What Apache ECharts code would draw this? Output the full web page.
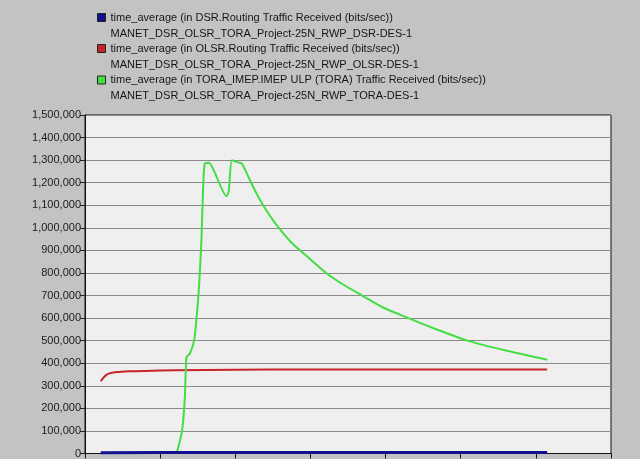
<!DOCTYPE html>
<html>
<head>
<meta charset="utf-8">
<script src="https://cdn.jsdelivr.net/npm/echarts@6/dist/echarts.min.js"></script>
<style>
html,body{margin:0;padding:0;background:#c3c3c3;}
#chart{width:640px;height:459px;}
</style>
</head>
<body>
<div id="chart"></div>
<script>
// Series names (legend)
const seriesNames = [
  "time_average (in DSR.Routing Traffic Received (bits/sec))\nMANET_DSR_OLSR_TORA_Project-25N_RWP_DSR-DES-1",
  "time_average (in OLSR.Routing Traffic Received (bits/sec))\nMANET_DSR_OLSR_TORA_Project-25N_RWP_OLSR-DES-1",
  "time_average (in TORA_IMEP.IMEP ULP (TORA) Traffic Received (bits/sec))\nMANET_DSR_OLSR_TORA_Project-25N_RWP_TORA-DES-1"
];

// x positions in axis units (x-axis tick labels are cut off in the picture)
const dsrX = [0.21, 1.0, 2.0, 3.0, 4.0, 5.0, 6.15];
const dsrY = [3000, 4000, 4000, 4000, 4000, 4000, 4000];

const olsrX = [0.21, 0.25, 0.30, 0.36, 0.45, 0.60, 0.80, 1.20, 2.00, 3.00, 4.00, 5.00, 6.15];
const olsrY = [320000, 338000, 352000, 358000, 361000, 364000, 366000, 369000, 371000, 372000, 372000, 372000, 372000];

const toraX = [1.218, 1.29, 1.328, 1.35, 1.394, 1.452, 1.483, 1.518, 1.55, 1.571, 1.594, 1.651, 1.704,
               1.882, 1.912, 1.956, 2.058, 2.089, 2.191, 2.301, 2.434, 2.567, 2.745, 2.922, 3.21,
               3.43, 3.688, 3.96, 4.28, 4.63, 5.09, 5.6, 6.153];
const toraY = [0, 96000, 243000, 427000, 442000, 500000, 596000, 743000, 950000, 1170000, 1285000, 1288000, 1262000,
               1140000, 1160000, 1300000, 1288000, 1285000, 1214000, 1140000, 1067000, 1005000, 935000, 883000, 800000,
               750000, 700000, 648000, 603000, 556000, 500000, 456000, 415000];

const yMin = 0, yMax = 1500000, yStep = 100000;
const xMin = 0, xMax = 7, xStep = 1;

const colors = ['#101090', '#c8252a', '#44dd44'];

function pairs(xs, ys){ return xs.map((x,i)=>[x, ys[i]]); }

const chart = echarts.init(document.getElementById('chart'), null, {renderer:'canvas'});

const legendTops = [-6.5, 24.5, 56];
const legends = seriesNames.map((n, i) => ({
  left: 97,
  top: legendTops[i],
  padding: 0,
  orient: 'vertical',
  icon: 'rect',
  itemWidth: 8,
  itemHeight: 8,
  itemStyle: {borderColor: '#222', borderWidth: 1},
  data: [n],
  formatter: name => ' \n' + name,
  textStyle: {
    fontFamily: 'Liberation Sans, Arial, sans-serif',
    fontSize: 11,
    color: '#151515',
    lineHeight: 16
  }
}));

chart.setOption({
  backgroundColor: '#c3c3c3',
  animation: false,
  legend: legends,
  grid: {
    left: 85, right: 29, top: 115, bottom: 4,
    show: true,
    backgroundColor: '#efefef',
    borderColor: '#111',
    borderWidth: 1
  },
  xAxis: {
    type: 'value',
    min: xMin, max: xMax, interval: xStep,
    axisLine: {show: true, lineStyle: {color: '#111', width: 1}},
    axisTick: {show: true, length: 5, lineStyle: {color: '#111'}},
    axisLabel: {show: false},
    splitLine: {show: false}
  },
  yAxis: {
    type: 'value',
    min: yMin, max: yMax, interval: yStep,
    axisLine: {show: true, lineStyle: {color: '#111', width: 1}},
    axisTick: {show: true, length: 5, lineStyle: {color: '#222'}},
    axisLabel: {
      margin: 4,
      fontFamily: 'Liberation Sans, Arial, sans-serif',
      fontSize: 11,
      color: '#1a1a1a',
      formatter: v => v.toLocaleString('en-US')
    },
    splitLine: {show: true, lineStyle: {color: '#8a8a8a', width: 1}}
  },
  series: [
    {name: seriesNames[0], type: 'line', data: pairs(dsrX, dsrY), showSymbol: false,
     lineStyle: {color: colors[0], width: 3}, itemStyle: {color: colors[0]}, z: 5},
    {name: seriesNames[1], type: 'line', data: pairs(olsrX, olsrY), showSymbol: false,
     smooth: 0.3,
     lineStyle: {color: colors[1], width: 2}, itemStyle: {color: colors[1]}, z: 3},
    {name: seriesNames[2], type: 'line', data: pairs(toraX, toraY), showSymbol: false,
     smooth: 0.2,
     lineStyle: {color: colors[2], width: 2}, itemStyle: {color: colors[2]}, z: 4}
  ]
});
</script>
</body>
</html>
